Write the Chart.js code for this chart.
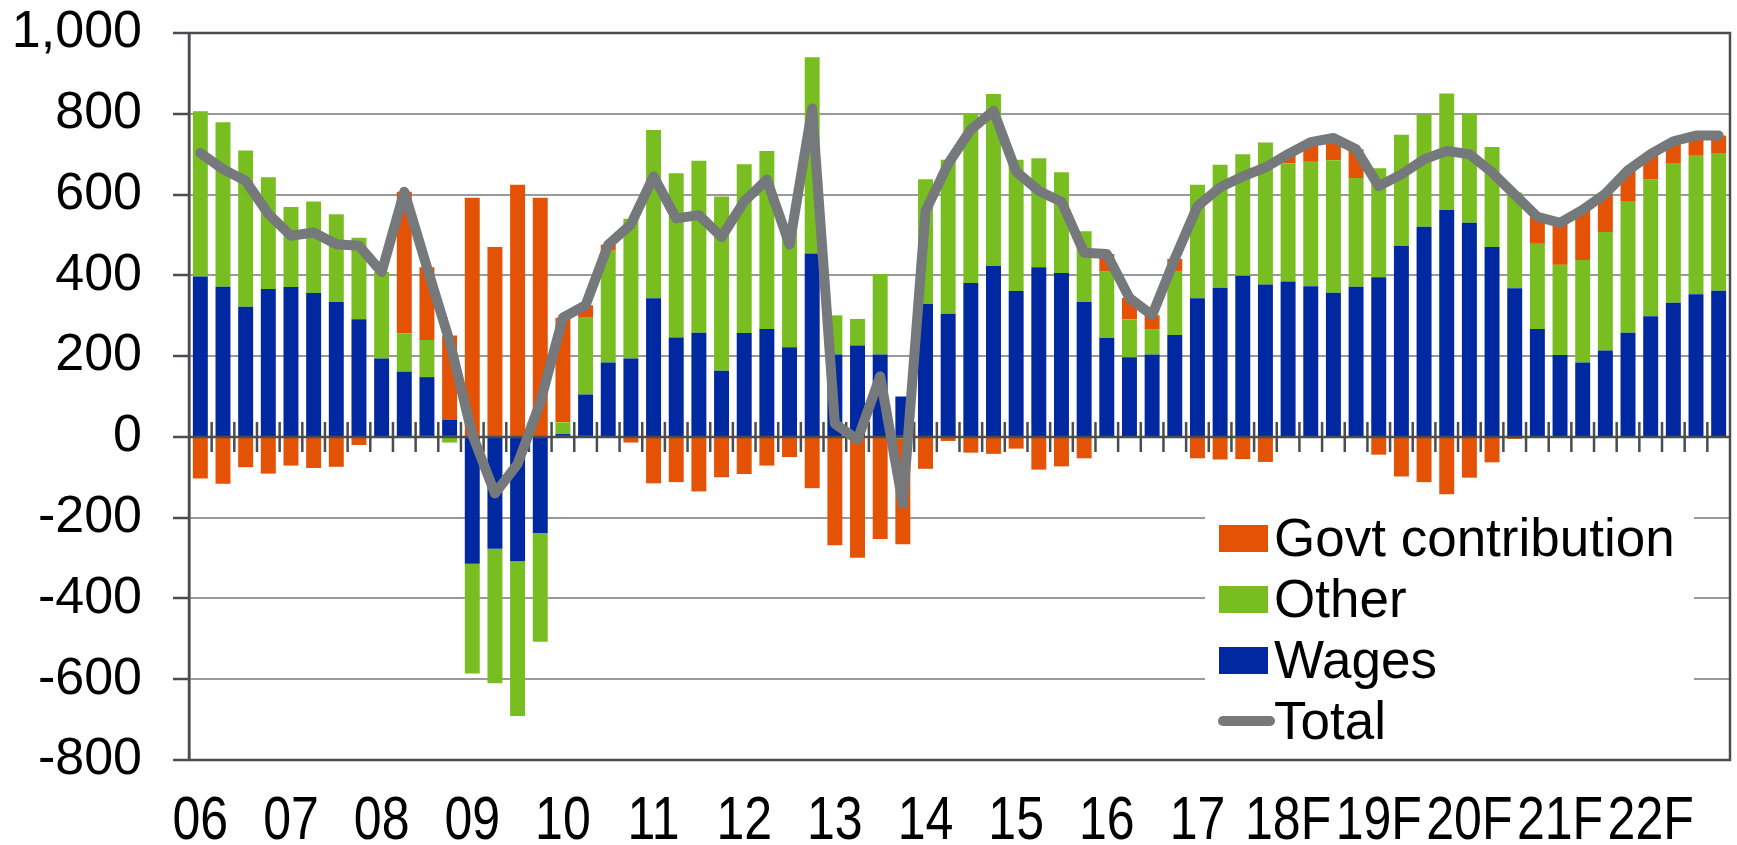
<!DOCTYPE html>
<html>
<head>
<meta charset="utf-8">
<script src="https://cdn.jsdelivr.net/npm/chart.js@4.4.1/dist/chart.umd.min.js"></script>
<style>
  html, body { margin: 0; padding: 0; background: #fff; }
  #wrap { width: 1737px; height: 845px; }
</style>
</head>
<body>
<div id="wrap"><canvas id="chart"></canvas></div>
<script>
const years = ['06', '07', '08', '09', '10', '11', '12', '13', '14', '15', '16', '17', '18F', '19F', '20F', '21F', '22F'];
const quarters = years.flatMap(y => ['Q1', 'Q2', 'Q3', 'Q4'].map(q => y + ' ' + q));

const wages = [
  397, 372, 322, 366, 371, 356, 334, 291, 194, 161, 148, 43,
  -314, -277, -308, -238, 7, 105, 184, 194, 343, 246, 258, 164,
  257, 267, 222, 454, 204, 226, 204, 100, 329, 305, 381, 423,
  361, 420, 406, 334, 245, 197, 204, 252, 343, 369, 399, 377,
  385, 373, 357, 372, 395, 473, 520, 562, 530, 470, 368, 267,
  203, 184, 214, 258, 299, 332, 353, 362
];
const other = [
  409, 407, 387, 277, 198, 227, 217, 202, 214, 95, 92, -14,
  -272, -333, -383, -269, 29, 190, 277, 346, 417, 407, 426, 431,
  418, 441, 304, 486, 97, 66, 199, -5, 309, 381, 419, 426,
  325, 270, 249, 175, 164, 94, 63, 159, 281, 305, 301, 352,
  292, 308, 328, 269, 270, 275, 279, 288, 271, 248, 237, 211,
  223, 254, 293, 324, 338, 346, 345, 339
];
const govt = [
  -103, -116, -75, -91, -71, -77, -74, -20, 0, 351, 180, 208,
  592, 470, 624, 592, 259, 31, 15, -14, -115, -112, -135, -100,
  -92, -71, -50, -127, -268, -299, -253, -261, -79, -10, -39, -42,
  -29, -81, -73, -53, 44, 53, 34, 30, -53, -56, -55, -62,
  23, 49, 55, 71, -44, -98, -112, -142, -101, -63, -5, 67,
  104, 124, 95, 78, 63, 54, 48, 45
];
const total = [
  703, 663, 634, 552, 498, 506, 477, 473, 408, 607, 420, 237,
  6, -140, -67, 85, 295, 326, 476, 526, 645, 541, 549, 495,
  583, 637, 476, 813, 33, -7, 150, -166, 559, 676, 761, 807,
  657, 609, 582, 456, 453, 344, 301, 441, 571, 618, 645, 667,
  700, 730, 740, 712, 621, 650, 687, 708, 700, 655, 600, 545,
  530, 562, 602, 660, 700, 732, 746, 746
];

const orange = '#e35205';
const green = '#78be20';
const blue = '#0028a0';
const grey = '#76797c';
const axisColor = '#4a4d50';
const gridColor = '#9a9a9a';
const font = 'Liberation Sans, Arial, sans-serif';

// axis at zero with small ticks between quarters, plus the frame round the plot
function drawAxes(chart) {
  const { ctx, chartArea: a, scales: { x, y } } = chart;
  const y0 = y.getPixelForValue(0);
  ctx.save();
  ctx.strokeStyle = axisColor;
  ctx.lineWidth = 2.5;
  ctx.beginPath();
  ctx.moveTo(a.left, y0);
  ctx.lineTo(a.right, y0);
  for (let i = 1; i < quarters.length; i++) {
    const bx = (x.getPixelForValue(i - 1) + x.getPixelForValue(i)) / 2;
    ctx.moveTo(bx, y0 - 15);
    ctx.lineTo(bx, y0 + 15);
  }
  ctx.stroke();
  ctx.strokeRect(a.left, a.top, a.right - a.left, a.bottom - a.top);
  ctx.restore();
}

// year labels under the first quarter, in a tall narrow face like the original
function drawYearLabels(chart) {
  const { ctx, scales: { x } } = chart;
  ctx.save();
  ctx.fillStyle = '#000';
  ctx.font = '61px ' + font;
  ctx.textAlign = 'center';
  ctx.textBaseline = 'alphabetic';
  years.forEach((yr, i) => {
    ctx.save();
    ctx.translate(x.getPixelForValue(i * 4), 839);
    ctx.scale(0.82, 1);
    ctx.fillText(yr, 0, 0);
    ctx.restore();
  });
  ctx.restore();
}

const legendItems = [
  { text: 'Govt contribution', color: orange, box: true },
  { text: 'Other', color: green, box: true },
  { text: 'Wages', color: blue, box: true },
  { text: 'Total', color: grey, box: false }
];

function drawLegend(chart) {
  const ctx = chart.ctx;
  ctx.save();
  ctx.fillStyle = '#fff';
  ctx.fillRect(1205, 500, 489, 252);
  ctx.font = '53px ' + font;
  ctx.textBaseline = 'middle';
  legendItems.forEach((item, i) => {
    const cy = 538 + i * 61;
    if (item.box) {
      ctx.fillStyle = item.color;
      ctx.fillRect(1219, cy - 13, 49, 27);
    } else {
      ctx.strokeStyle = item.color;
      ctx.lineWidth = 10;
      ctx.lineCap = 'round';
      ctx.beginPath();
      ctx.moveTo(1223, cy);
      ctx.lineTo(1270, cy);
      ctx.stroke();
    }
    ctx.fillStyle = '#000';
    ctx.fillText(item.text, 1274, cy + 3);
  });
  ctx.restore();
}

const framePlugin = {
  id: 'frame',
  afterDatasetDraw(chart, args) {
    if (args.index === 0) drawAxes(chart);
  },
  afterDraw(chart) {
    drawYearLabels(chart);
    drawLegend(chart);
  }
};

const barOpts = { type: 'bar', order: 1, categoryPercentage: 0.66, barPercentage: 1 };

new Chart(document.getElementById('chart'), {
  data: {
    labels: quarters,
    datasets: [
      { ...barOpts, label: 'Wages', data: wages, backgroundColor: blue },
      { ...barOpts, label: 'Other', data: other, backgroundColor: green },
      { ...barOpts, label: 'Govt contribution', data: govt, backgroundColor: orange },
      {
        type: 'line', label: 'Total', data: total, order: 0, stack: 'total',
        borderColor: grey, borderWidth: 10, pointRadius: 0, tension: 0,
        borderJoinStyle: 'round', borderCapStyle: 'round'
      }
    ]
  },
  options: {
    responsive: true,
    maintainAspectRatio: false,
    animation: false,
    devicePixelRatio: 1,
    layout: { padding: { top: 33, right: 7, left: 0, bottom: 0 } },
    plugins: { legend: { display: false }, tooltip: { enabled: false } },
    scales: {
      x: {
        stacked: true,
        grid: { display: false },
        border: { display: false },
        ticks: { display: false },
        afterFit: s => { s.height = 85; s.paddingLeft = 0; s.paddingRight = 0; }
      },
      y: {
        stacked: true,
        min: -800,
        max: 1000,
        ticks: {
          stepSize: 200, padding: 31, color: '#000',
          font: { family: font, size: 52 },
          callback: v => v.toLocaleString('en-US')
        },
        grid: {
          color: gridColor, lineWidth: 2,
          tickLength: 16, tickColor: axisColor, tickWidth: 2.5
        },
        border: { display: true, color: axisColor, width: 2.5 },
        afterFit: s => { s.width = 189; s.paddingTop = 0; s.paddingBottom = 0; }
      }
    }
  },
  plugins: [framePlugin]
});
</script>
</body>
</html>
